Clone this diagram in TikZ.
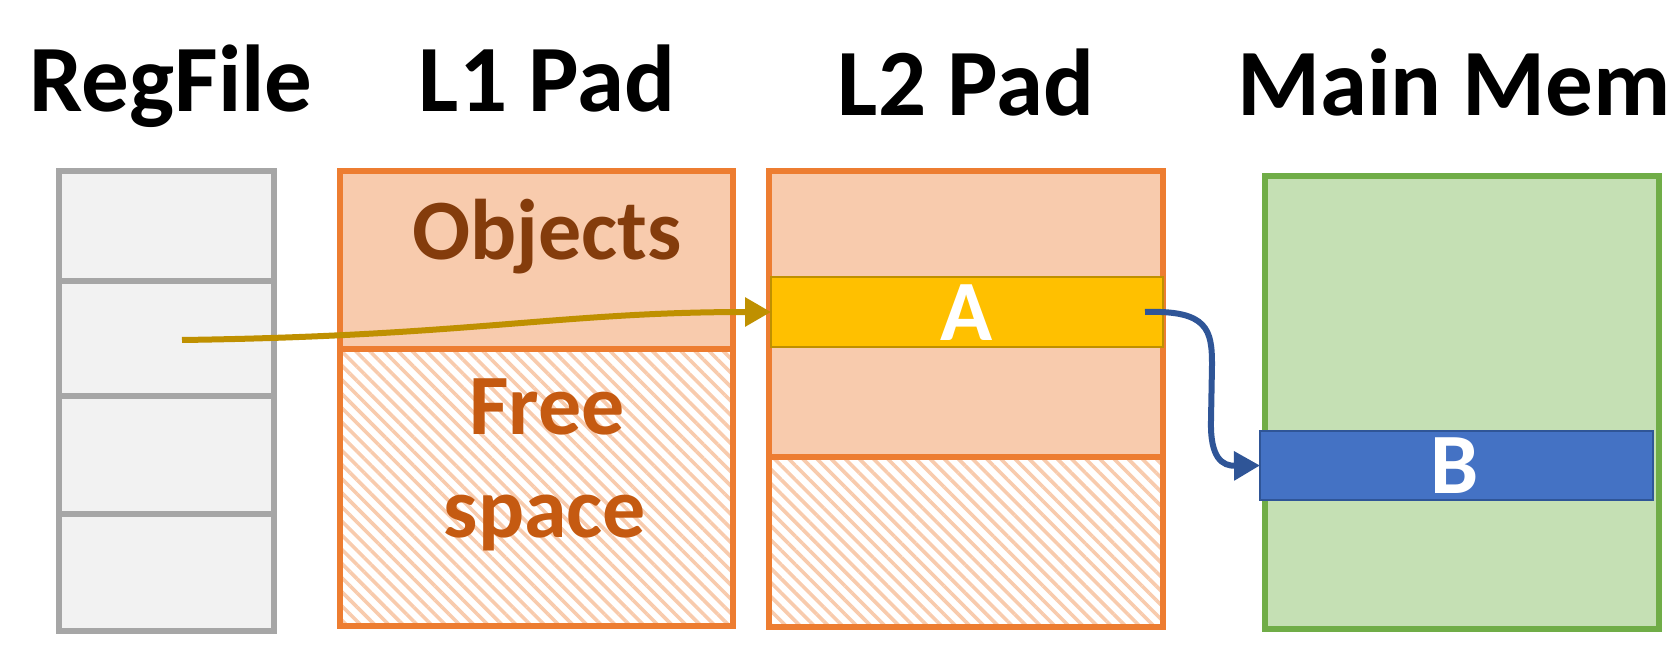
\documentclass[tikz,border=0pt]{standalone}
\usepackage{fontspec}
\setmainfont{Carlito}
\usetikzlibrary{fit,patterns.meta,arrows.meta}

\definecolor{regline}{HTML}{A6A6A6}
\definecolor{regfill}{HTML}{F2F2F2}
\definecolor{padline}{HTML}{ED7D31}
\definecolor{padfill}{HTML}{F8CBAD}
\definecolor{objtext}{HTML}{843C0C}
\definecolor{freetext}{HTML}{C55A11}
\definecolor{afill}{HTML}{FFC000}
\definecolor{aline}{HTML}{BF9000}
\definecolor{memline}{HTML}{70AD47}
\definecolor{memfill}{HTML}{C5E0B4}
\definecolor{bfill}{HTML}{4472C4}
\definecolor{bline}{HTML}{2F5597}

\tikzset{
  box/.style={inner sep=0pt, outer sep=0pt},
  regcell/.style={box, draw=regline, fill=regfill, line width=3pt},
  padused/.style={box, fill=padfill},
  padfree/.style={box, fill=white, pattern={Lines[angle=-45,distance=5pt,line width=1.8pt]}, pattern color=padfill},
  padframe/.style={box, draw=padline, line width=3pt},
  memframe/.style={box, draw=memline, fill=memfill, line width=3pt},
  aband/.style={box, draw=aline, fill=afill, line width=1.1pt},
  bband/.style={box, draw=bline, fill=bfill, line width=1.1pt},
  title/.style={font=\bfseries\fontsize{47.5}{50}\selectfont, anchor=base, inner sep=0pt},
  label/.style={font=\bfseries\fontsize{43}{46}\selectfont, anchor=base, inner sep=0pt},
  ptr/.style={line width=3pt, -{Triangle[length=13pt,width=14pt]}},
}

\begin{document}
\begin{tikzpicture}[x=0.5pt,y=-0.5pt]
  \useasboundingbox (0,0) rectangle (1675,646);

  % column headings
  \node[title] (t-reg) at (171,112) {RegFile};
  \node[title] (t-l1)  at (547,112) {L1 Pad};
  \node[title] (t-l2)  at (966,116) {L2 Pad};
  \node[title] (t-mem) at (1454,116) {Main Mem};

  % register file: four stacked registers
  \node[regcell, fit={(59,171) (274,281)}] (r1) {};
  \node[regcell, fit={(59,281) (274,396)}] (r2) {};
  \node[regcell, fit={(59,396) (274,517)}] (r3) {};
  \node[regcell, fit={(59,514) (274,631)}] (r4) {};

  % L1 scratchpad: objects on top, free space below
  \node[padused, fit={(340,171) (733,349)}] (l1-obj) {};
  \node[padfree, fit={(340,349) (733,626)}] (l1-free) {};
  \node[padframe, fit={(340,171) (733,349)}] (l1-objf) {};
  \node[padframe, fit={(340,349) (733,626)}] (l1-freef) {};
  \node[label, text=objtext]  (objects) at (547,260) {Objects};
  \node[label, text=freetext] (free)    at (547,435) {Free};
  \node[label, text=freetext] (space)   at (545,537) {space};

  % L2 scratchpad with object A
  \node[padused, fit={(769,171) (1163,457)}] (l2-obj) {};
  \node[padfree, fit={(769,457) (1163,627)}] (l2-free) {};
  \node[padframe, fit={(769,171) (1163,457)}] (l2-objf) {};
  \node[padframe, fit={(769,457) (1163,627)}] (l2-freef) {};
  \node[aband, fit={(771,277) (1163,347)}] (A) {};
  \node[label, text=white] (A-txt) at (967,341) {A};

  % main memory with object B
  \node[memframe, fit={(1265,176) (1659,629)}] (mem) {};
  \node[bband, fit={(1260,431) (1653,500)}] (B) {};
  \node[label, text=white] (B-txt) at (1455,493) {B};

  % pointers
  \coordinate (reg-ptr) at (182,340);
  \coordinate (a-ptr) at (1145,312);
  \draw[ptr, draw=aline]
    (reg-ptr) .. controls (470,336) and (560,312) .. (A.west);
  \draw[ptr, draw=bline]
    (a-ptr) .. controls (1208,310) and (1212,330) .. (1212,365)
    -- (1211,420) .. controls (1210,458) and (1222,466) .. (B.west);
\end{tikzpicture}
\end{document}
